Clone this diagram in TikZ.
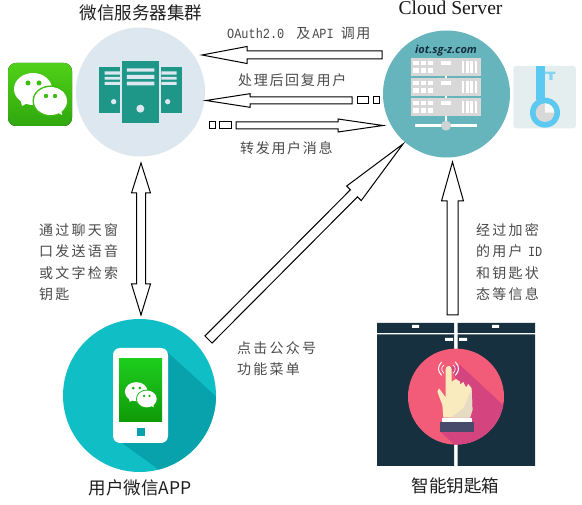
\documentclass[tikz,border=0pt]{standalone}
\usepackage{fontspec}
\setmainfont{Liberation Serif}
\setsansfont{Open Sans}
\newfontfamily\cjk{Noto Sans CJK SC}
\newfontfamily\cjkls[LetterSpace=12]{Noto Sans CJK SC}
\newfontfamily\cjklw[LetterSpace=16]{Noto Sans CJK SC}
\newfontfamily\narmono[FakeStretch=0.85]{Liberation Mono}
\usetikzlibrary{calc}
\definecolor{srvbg}{HTML}{DCE7EF}
\definecolor{srvteal}{HTML}{1E9688}
\definecolor{cloudbg}{HTML}{66B5BD}
\definecolor{rackgray}{HTML}{D8D8D8}
\definecolor{appbg}{HTML}{10BEC6}
\definecolor{appshade}{HTML}{07A2AB}
\definecolor{safe}{HTML}{17303F}
\definecolor{redbg}{HTML}{F25C78}
\definecolor{redshade}{HTML}{D4457F}
\definecolor{keyblue}{HTML}{5CC9F0}
\definecolor{tile}{HTML}{E4EEEF}
\definecolor{lbl}{HTML}{4A4A4A}
\definecolor{wxtop}{HTML}{50D016}
\definecolor{wxbot}{HTML}{2FA80E}
\definecolor{wxmid}{HTML}{3FBC12}
\definecolor{scrtop}{HTML}{1ECD1E}
\definecolor{scrbot}{HTML}{0F9A08}
\definecolor{scrmid}{HTML}{17B413}
\definecolor{skin}{HTML}{FAEBBE}
\definecolor{skinshade}{HTML}{E6DCC4}
\definecolor{cuff}{HTML}{474A6A}
\tikzset{
  blockarrow/.style={draw=black,line width=1pt,fill=white,line join=miter},
  dashbox/.style={draw=black,line width=1pt,fill=white,minimum width=#1,minimum height=7pt,inner sep=0pt},
  title/.style={font=\cjk\fontsize{17.5}{20}\selectfont,text=black!88,inner sep=0pt},
  label/.style={font=\cjkls\fontsize{14}{21.4}\selectfont,text=lbl,inner sep=0pt,align=left,anchor=west},
  sidelabel/.style={label,font=\cjklw\fontsize{14}{21.4}\selectfont},
  disc/.style={circle,inner sep=0pt,minimum size=#1},
}
\newcommand{\tttxt}[1]{{\narmono\fontsize{14}{14}\selectfont #1}}
% from, to, shaft half width, head half width, head length
\newcommand{\blockarr}[5]{%
  \coordinate (ba) at ($(#2)!#5!(#1)$);
  \draw[blockarrow] ($(#1)!#3!90:(#2)$) -- ($(ba)!#3!90:(#2)$) -- ($(ba)!#4!90:(#2)$) -- (#2)
    -- ($(ba)!#4!-90:(#2)$) -- ($(ba)!#3!-90:(#2)$) -- ($(#1)!#3!-90:(#2)$) -- cycle;
}
% WeChat mark: x, y, scale, background colour
\newcommand{\wxmark}[4]{%
  \begin{scope}[shift={(#1,#2)},scale=#3]
    \fill[white] (-7,-5.5) ellipse (19 and 16);
    \fill[white] (-20,3) -- (-18,11.5) -- (-8,6) -- cycle;
    \fill[#4] (10.5,6.5) ellipse (18 and 15.5);
    \fill[white] (10.5,6.5) ellipse (16.5 and 14);
    \fill[white] (14,16) -- (22,20.5) -- (21,12) -- cycle;
    \fill[#4] (-12,-11.5) circle (2.5) (-1,-11.5) circle (2.5) (6,1.5) circle (2.2) (15,1.5) circle (2.2);
  \end{scope}
}
\begin{document}
\begin{tikzpicture}[x=1pt,y=-1pt]
\useasboundingbox (0,0) rectangle (582,505);
\fill[white] (0,0) rectangle (582,505);

% ---------- discs ----------
\node[disc=129pt,fill=srvbg] (server) at (140.5,92) {};
\node[disc=127pt,fill=cloudbg] (cloud) at (446.5,94) {};
\node[disc=153pt,fill=appbg] (app) at (139.5,395.5) {};

% ---------- WeChat tile ----------
\fill[rounded corners=8pt,top color=wxtop,bottom color=wxbot] (8,63) rectangle (72,126);
\wxmark{40}{94.5}{1}{wxmid}

% ---------- server icon ----------
\begin{scope}[scale=1/3]
  \fill[srvteal] (367,184) rectangle (477,368);
  \fill[srvteal] (298,200) rectangle (360,338);
  \fill[srvteal] (484,200) rectangle (545,338);
  \fill[srvbg] (381,205) rectangle (463,215) (381,225) rectangle (463,237) (381,245) rectangle (463,256);
  \fill[srvbg] (314,214) rectangle (360,224) (314,231) rectangle (360,239) (314,246) rectangle (360,255);
  \fill[srvbg] (484,214) rectangle (530,224) (484,231) rectangle (530,239) (484,246) rectangle (530,255);
  \fill[srvbg] (421,326) circle (12) (341,305) circle (8) (503,305) circle (8);
\end{scope}

% ---------- cloud server icon ----------
\begin{scope}[shift={(291,0)},scale=1/3]
  \fill[white] (461,225) rectangle (469,300);
  \fill[white] (461,345) rectangle (469,378);
  \fill[white] (372,373) rectangle (558,381);
  \fill[rackgray!90!cloudbg] (465,377) circle (15);
  \foreach \yy in {175,235,295}{
    \fill[rackgray] (360,\yy) rectangle (570,\yy+53);
    \foreach \xx in {367,389,410}{
      \fill[white] (\xx,\yy+7) rectangle +(17,14);
      \fill[white] (\xx,\yy+29) rectangle +(17,14);
    }
    \fill[white] (450,\yy+7) rectangle +(30,14);
    \foreach \xx in {512,525,538,551}{
      \fill[white] (\xx,\yy+8) rectangle +(8,37);
    }
  }
\end{scope}
\node[font=\sffamily\bfseries\itshape\fontsize{11}{13}\selectfont,text=safe,inner sep=0pt] (iot) at (446,51) {iot.sg-z.com};

% ---------- key tile ----------
\begin{scope}[shift={(291,0)},scale=1/3]
  \fill[tile,rounded corners=3pt] (667,198) rectangle (855,385);
  \fill[keyblue] (735,198) rectangle (762,300);
  \fill[keyblue!70!tile] (762,215) rectangle (793,222) (775,222) rectangle (785,240);
  \fill[keyblue] (762,338) circle (45);
  \fill[rackgray] (762,338) circle (28);
  \fill[white!85!rackgray] (762,338) -- (762,310) arc (-90:0:28) -- cycle;
\end{scope}

% ---------- phone ----------
\begin{scope}
  \clip (139.5,395.5) circle (76.5);
  \fill[appshade] (165,350) -- (265,441) -- (230,521) -- (122,443) -- cycle;
\end{scope}
\fill[white,rounded corners=7pt] (113,348) rectangle (168,443);
\fill[top color=scrtop,bottom color=scrbot] (119,359) rectangle (162,422);
\fill[appshade] (137,428) rectangle (145,436);
\wxmark{140.5}{395}{0.6}{scrmid}

% ---------- safe box ----------
\fill[safe] (377,323) rectangle (454,333) (457.5,323) rectangle (535,333);
\fill[safe] (377,334.5) rectangle (454,466) (457.5,334.5) rectangle (535,466);
\fill[white] (412,325) rectangle (419,328) (492,325) rectangle (499,328);
\fill[white] (445,338) rectangle (453,341) (459,338) rectangle (467,341);
\node[disc=96pt,fill=redbg] (touch) at (456,396.6) {};
\begin{scope}
  \clip (456,396.6) circle (48);
  \begin{scope}[shift={(360,310)},scale=1/3]
    \fill[redshade] (270,170) -- (300,165) -- (440,295) -- (440,420) -- (300,420) -- (241,365) -- (335,300) -- cycle;
  \end{scope}
\end{scope}
\begin{scope}[shift={(360,310)},scale=1/3]
  \fill[skin] (266,168) .. controls (272,168) and (275,172) .. (275,178) -- (275,215)
     -- (288,207) -- (300,215) -- (300,224) -- (310,216) -- (318,232) -- (325,222) -- (335,235)
     -- (337,300) -- (330,323) -- (250,323) -- (247,285) -- (232,245) -- (237,235) -- (257,262) -- (257,178)
     .. controls (257,172) and (260,168) .. (266,168) -- cycle;
  \fill[skinshade] (335,238) -- (337,300) -- (330,323) -- (272,323) -- (310,295) -- cycle;
  \fill[white] (247,323) rectangle (337,337);
  \fill[cuff] (241,337) rectangle (343,365);
  \draw[white,line width=1pt] (245,156) .. controls (232,170) and (232,182) .. (245,196);
  \draw[white,line width=0.7pt] (252,165) .. controls (243,172) and (243,180) .. (252,190);
  \draw[white,line width=1pt] (286,156) .. controls (299,170) and (299,182) .. (286,196);
  \draw[white,line width=0.7pt] (279,165) .. controls (288,172) and (288,180) .. (279,190);
\end{scope}

% ---------- titles ----------
\node[title] (t1) at (141,13) {微信服务器集群};
\node[font=\fontsize{19.6}{22}\selectfont,text=black!90,inner sep=0pt,anchor=base] (t2) at (450.5,15) {Cloud Server};
\node[title] (t3) at (140,488) {用户微信APP};
\node[title] (t4) at (455.5,486) {智能钥匙箱};

% ---------- arrows ----------
\coordinate (a1s) at (382,55);   \coordinate (a1e) at (202,55);
\coordinate (a2s) at (352,100.5);\coordinate (a2e) at (206,100.5);
\coordinate (a3s) at (236,125.5);\coordinate (a3e) at (383,125.5);
\coordinate (a4s) at (208.5,339.5);\coordinate (a4e) at (403,144);
\coordinate (a5s) at (452.5,315);\coordinate (a5e) at (452.5,162);
\coordinate (a6s) at (141,163);  \coordinate (a6e) at (141,315);
\blockarr{a1s}{a1e}{4pt}{8.5pt}{45pt}
\blockarr{a2s}{a2e}{3.5pt}{6.8pt}{44pt}
\node[dashbox=11pt] (d1) at (362.5,100.5) {};
\node[dashbox=6pt] (d2) at (376,100.5) {};
\blockarr{a3s}{a3e}{3.5pt}{6.5pt}{45pt}
\node[dashbox=6pt] (d3) at (212,125.5) {};
\node[dashbox=12pt] (d4) at (225,125.5) {};
\blockarr{a4s}{a4e}{5pt}{10.3pt}{69.6pt}
\blockarr{a5s}{a5e}{5.5pt}{11pt}{39pt}
\draw[blockarrow] (a6e) -- ++(-9.5,-31) -- ++(5,0) -- ++(0,-91) -- ++(-5,0) -- (a6s) -- ++(9.5,30) -- ++(-5,0) -- ++(0,91) -- ++(5,0) -- cycle;

% ---------- labels ----------
\node[label] (l1) at (227,33) {\tttxt{OAuth2.0}\hspace{12pt}及\hspace{2pt}\tttxt{API}\hspace{7pt}调用};
\node[label] (l2) at (238,80) {处理后回复用户};
\node[label] (l3) at (240,148) {转发用户消息};
\node[sidelabel] (l4) at (39,262) {通过聊天窗\\口发送语音\\或文字检索\\钥匙};
\node[sidelabel] (l5) at (476,262) {经过加密\\的用户 \tttxt{ID}\\和钥匙状\\态等信息};
\node[sidelabel] (l6) at (237,358.5) {点击公众号\\功能菜单};
\end{tikzpicture}
\end{document}
